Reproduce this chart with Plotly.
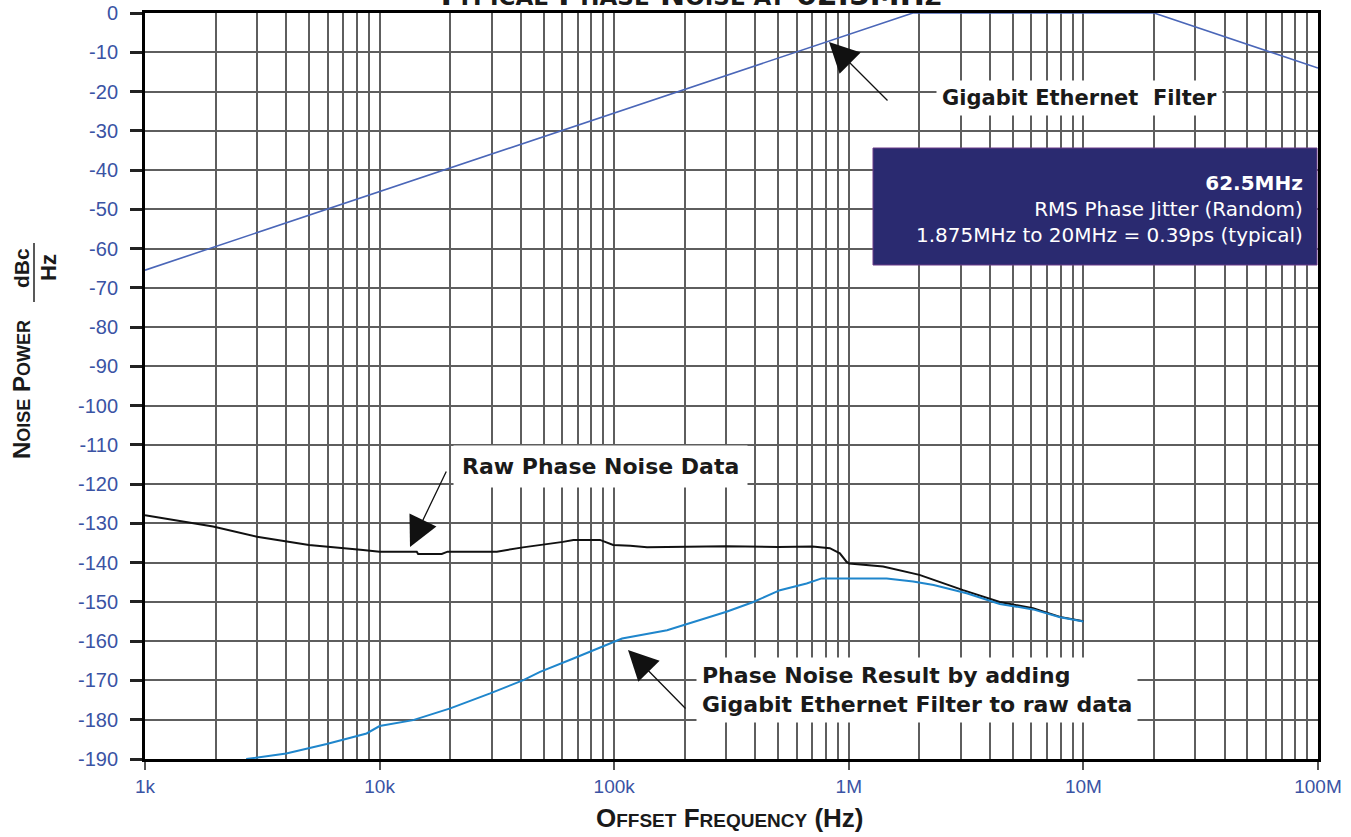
import plotly.graph_objects as go

# ---------------- data ----------------
filter_freq = [1e3, 1.875e6, 20e6, 1e8]
filter_db = [-65.5, 0, 0, -14]

raw_freq = [1000, 1950, 3000, 5000, 8500, 10000, 14400, 14600, 18400, 19500, 31600,
            40800, 60500, 67000, 87000, 99000, 117000, 138000, 300000, 500000, 700000,
            830000, 916000, 979000, 1005000, 1400000, 2000000, 3070000, 4400000,
            6100000, 7950000, 10000000]
raw_db = [-127.9, -130.8, -133.4, -135.5, -136.8, -137.2, -137.2, -137.8, -137.8, -137.2,
          -137.2, -136.1, -134.7, -134.2, -134.2, -135.5, -135.7, -136.1, -135.8, -136.0,
          -135.9, -136.3, -137.6, -139.8, -140.2, -141.0, -143.1, -147.0, -150.0, -151.6,
          -153.8, -154.9]

res_freq = [2700, 4000, 5950, 8800, 10000, 13900, 20000, 29600, 41000, 48300, 67000,
            99000, 108000, 168000, 301000, 392000, 509000, 661000, 766000, 1450000,
            1880000, 2300000, 3180000, 4400000, 6100000, 7950000, 10000000]
res_db = [-190, -188.6, -186.2, -183.5, -181.6, -180.1, -177.1, -173.3, -169.9, -167.8,
          -164.4, -160.1, -159.3, -157.2, -152.5, -150.0, -147.0, -145.3, -144.0, -144.0,
          -144.8, -145.7, -147.8, -150.5, -151.9, -153.9, -155.0]

x_tick_vals = [1e3, 1e4, 1e5, 1e6, 1e7, 1e8]
x_tick_text = ["1k", "10k", "100k", "1M", "10M", "100M"]
y_tick_vals = list(range(0, -191, -10))
y_tick_text = [str(v) for v in y_tick_vals]

minor_vals = [m * 10 ** e for e in range(3, 8) for m in range(2, 10)]

W, H = 1351, 837
L, R, T, B = 145, 1318, 13, 759
def px(x):
    return (x - L) / (R - L)
def py(y):
    return (B - y) / (B - T)

TICK_BLUE = "#3a53a4"
GRID = "#5e5e5e"
SANS = "Liberation Sans, Arial, sans-serif"
WIDE = "DejaVu Sans, sans-serif"

fig = go.Figure()
fig.add_trace(go.Scatter(x=filter_freq, y=filter_db, mode="lines",
                         line=dict(color="#4a66b8", width=1.6), cliponaxis=False,
                         showlegend=False))
fig.add_trace(go.Scatter(x=raw_freq, y=raw_db, mode="lines",
                         line=dict(color="#111111", width=2), showlegend=False))
fig.add_trace(go.Scatter(x=res_freq, y=res_db, mode="lines",
                         line=dict(color="#1f86cc", width=2), showlegend=False))

fig.update_xaxes(type="log", range=[3, 8], tickvals=x_tick_vals, ticktext=x_tick_text,
                 showgrid=True, gridcolor=GRID, gridwidth=1.8, automargin=False,
                 ticks="outside", ticklen=8, tickwidth=2, tickcolor="#555555",
                 tickfont=dict(family=SANS, size=19, color=TICK_BLUE),
                 showline=True, linecolor="black", linewidth=3, mirror=True,
                 minor=dict(tickvals=minor_vals, showgrid=True, gridcolor=GRID,
                            gridwidth=1.8, ticks=""),
                 zeroline=False)
fig.update_yaxes(range=[-190, 0], tickvals=y_tick_vals, ticktext=y_tick_text,
                 showgrid=True, gridcolor=GRID, gridwidth=1.8, automargin=False,
                 ticks="outside", ticklen=12, tickwidth=2.5, tickcolor="#222222",
                 ticklabelstandoff=8,
                 tickfont=dict(family=SANS, size=20, color=TICK_BLUE),
                 showline=True, linecolor="black", linewidth=3, mirror=True,
                 zeroline=False)

shapes = [
    dict(type="rect", xref="paper", yref="paper", x0=px(873), x1=px(1317),
         y0=py(265), y1=py(148), fillcolor="#2a2a70", line=dict(color="#6b3a88", width=1),
         layer="above"),
    dict(type="line", xref="paper", yref="paper", x0=px(34), x1=px(34),
         y0=py(302), y1=py(243), line=dict(color="#222222", width=1.5)),
]

ann = []
# title (clipped at top)
ann.append(dict(xref="paper", yref="paper", x=px(688), y=py(-5), xanchor="center",
                yanchor="middle", showarrow=False,
                text="<b>T<span style='font-size:23px'>YPICAL</span> P<span style='font-size:23px'>HASE</span> "
                     "N<span style='font-size:23px'>OISE AT</span> 62.5MH<span style='font-size:23px'>Z</span></b>",
                font=dict(family=WIDE, size=30, color="#1a1a1a")))
# x axis title
ann.append(dict(xref="paper", yref="paper", x=px(730), y=py(818), xanchor="center",
                yanchor="middle", showarrow=False,
                text="<b>O<span style='font-size:19px'>FFSET</span> F<span style='font-size:19px'>REQUENCY</span> (Hz)</b>",
                font=dict(family=SANS, size=26, color="#1a1a1a")))
# y axis title pieces
ann.append(dict(xref="paper", yref="paper", x=px(21), y=py(390), xanchor="center",
                yanchor="middle", showarrow=False, textangle=-90,
                text="<b>N<span style='font-size:18px'>OISE</span> P<span style='font-size:18px'>OWER</span></b>",
                font=dict(family=SANS, size=24, color="#1a1a1a")))
ann.append(dict(xref="paper", yref="paper", x=px(21), y=py(268), xanchor="center",
                yanchor="middle", showarrow=False, textangle=-90,
                text="<b>dBc</b>", font=dict(family=SANS, size=21, color="#1a1a1a")))
ann.append(dict(xref="paper", yref="paper", x=px(48), y=py(268), xanchor="center",
                yanchor="middle", showarrow=False, textangle=-90,
                text="<b>Hz</b>", font=dict(family=SANS, size=22, color="#1a1a1a")))

# callout texts
ann.append(dict(xref="paper", yref="paper", x=px(1079), y=py(98), xanchor="center",
                yanchor="middle", showarrow=False, bgcolor="white", borderpad=5,
                text="<b>Gigabit Ethernet  Filter</b>",
                font=dict(family=WIDE, size=21, color="#1a1a1a")))
ann.append(dict(xref="paper", yref="paper", x=px(600), y=py(466), xanchor="center",
                yanchor="middle", showarrow=False, bgcolor="white", borderpad=8,
                text="<b>Raw Phase Noise Data</b>",
                font=dict(family=WIDE, size=22, color="#1a1a1a")))
ann.append(dict(xref="paper", yref="paper", x=px(696), y=py(690), xanchor="left",
                yanchor="middle", showarrow=False, bgcolor="white", borderpad=5,
                align="left",
                text="<b>Phase Noise Result by adding<br>Gigabit Ethernet Filter to raw data</b>",
                font=dict(family=WIDE, size=22, color="#1a1a1a")))
# navy box text
ann.append(dict(xref="paper", yref="paper", x=px(1305), y=py(209), xanchor="right",
                yanchor="middle", showarrow=False, align="right",
                text="<b>62.5MHz</b><br>RMS Phase Jitter (Random)<br>1.875MHz to 20MHz = 0.39ps (typical)",
                font=dict(family=WIDE, size=20, color="white")))

# arrows
for tip, tail in [((829, 42), (889, 102)), ((410, 547), (447, 470)), ((628, 650), (687, 710))]:
    ann.append(dict(xref="paper", yref="paper", x=px(tip[0]), y=py(tip[1]),
                    ax=tail[0] - tip[0], ay=tail[1] - tip[1], text="",
                    showarrow=True, arrowhead=2, arrowsize=4.6, arrowwidth=1.3,
                    arrowcolor="#111111", standoff=0))

fig.update_layout(width=W, height=H, margin=dict(l=L, r=W - R, t=T, b=H - B),
                  paper_bgcolor="white", plot_bgcolor="white",
                  shapes=shapes, annotations=ann, showlegend=False)

fig.write_html("out.html", config={"displayModeBar": False},
               post_script="document.body.style.margin='0';document.body.style.overflow='hidden';")
